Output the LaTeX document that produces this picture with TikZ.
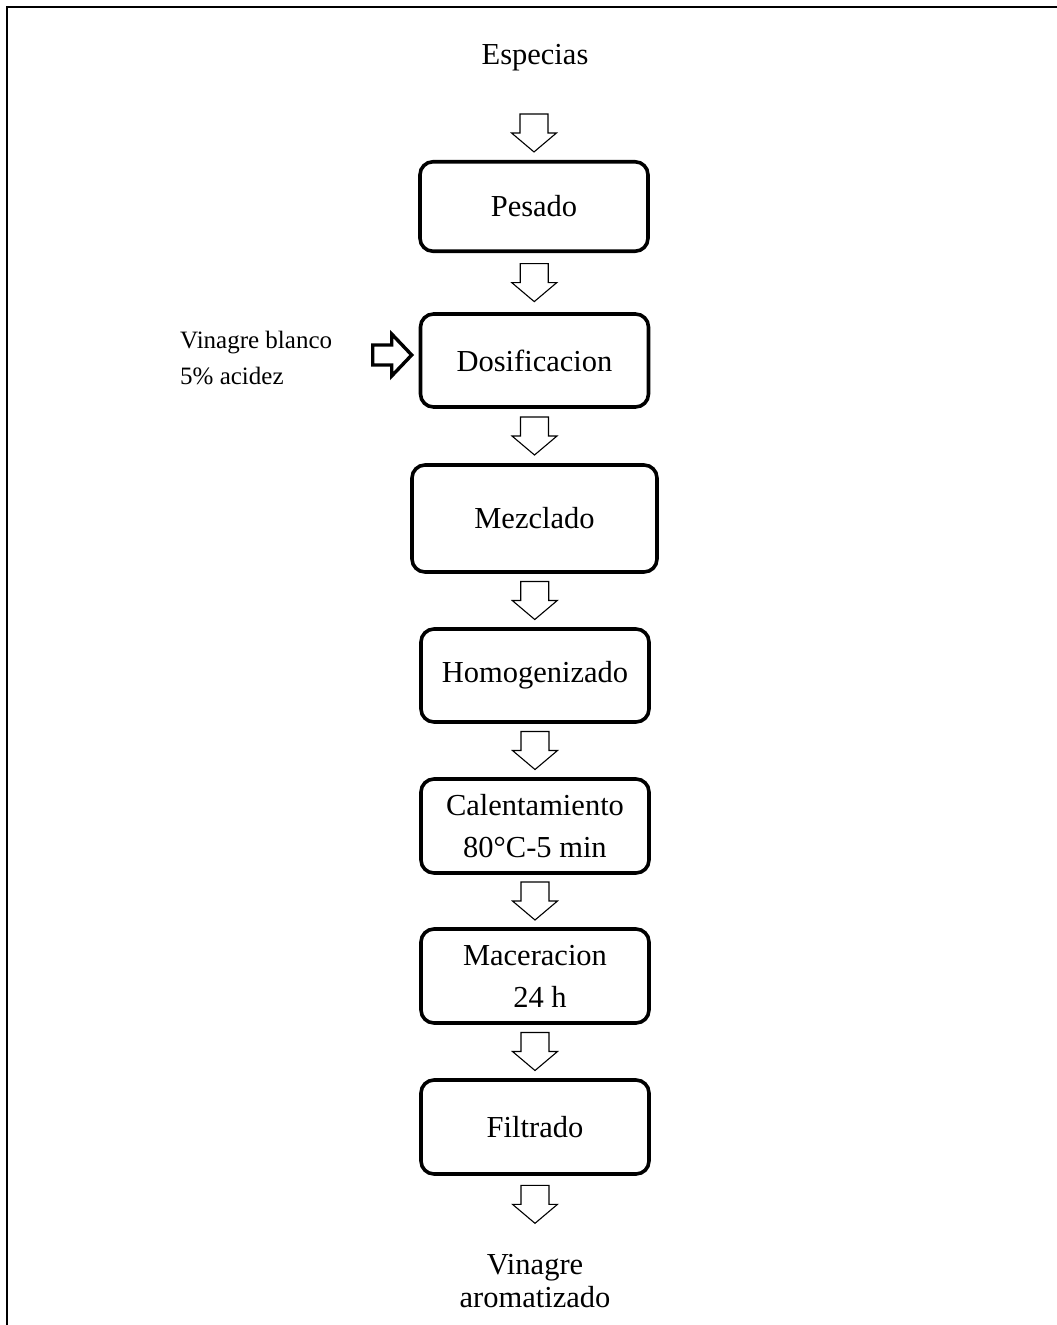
\documentclass[tikz,border=0pt]{standalone}
\usepackage{fontspec}
\setmainfont{Liberation Serif}
\usetikzlibrary{calc}
\begin{document}
\begin{tikzpicture}[x=1pt,y=-1pt,
  stepbox/.style={draw, line width=3.6pt, rounded corners=13pt,
    minimum width=228pt, minimum height=93pt, inner sep=0pt,
    align=center, font=\fontsize{30.5}{42}\selectfont},
  label/.style={inner sep=0pt, align=center, font=\fontsize{30.5}{33}\selectfont},
  sidelabel/.style={inner sep=0pt, align=left, font=\fontsize{25}{36}\selectfont},
  flowline/.style={draw, line width=1.1pt, line join=miter},
  feedline/.style={draw, line width=3.4pt, fill=white, line join=miter}]
\useasboundingbox (0,0) rectangle (1057,1325);
% page frame
\draw[line width=1.4pt] (7,1325) -- (7,7) -- (1057,7);

% input and output labels
\node[label] (esp) at (535,58) {Especias};

% process steps
\node[stepbox, minimum height=89.5pt] (pesado) at (534,206.5) {Pesado};
\node[stepbox] (dosif) at (534.5,360.5) {Dosificacion};
\node[stepbox, minimum width=245pt, minimum height=107pt] (mezcla) at (534.5,518.5) {Mezclado};
\node[stepbox] (homog) at (535,675.5) {Homogenizado};
\node[stepbox, minimum height=94pt] (calent) at (535,826) {Calentamiento\\80°C-5 min};
\node[stepbox, minimum height=94pt] (macer) at (535,976) {Maceracion\\\hspace*{10pt}24 h};
\node[stepbox, minimum height=94pt] (filtr) at (535,1127) {Filtrado};

\node[label] (salida) at (535,1281) {Vinagre\\aromatizado};

% side input
\node[sidelabel, anchor=west] (vin) at (180,358) {Vinagre blanco\\5\% acidez};
\coordinate (fa) at ($(dosif.west)+(-26,-5.5)$);
\path[feedline, shift={(fa)}]
  (-20,-10) -- (-1,-10) -- (-1,-21) -- (19,0) -- (-1,21) -- (-1,10) -- (-20,10) -- cycle;

% hollow block arrows between steps
\coordinate (a0) at ($(pesado.north)+(0,-27)$);
\coordinate (a1) at ($(pesado.south)!0.5!(dosif.north)$);
\coordinate (a2) at ($(dosif.south)!0.5!(mezcla.north)$);
\coordinate (a3) at ($(mezcla.south)!0.5!(homog.north)$);
\coordinate (a4) at ($(homog.south)!0.5!(calent.north)$);
\coordinate (a5) at ($(calent.south)!0.5!(macer.north)$);
\coordinate (a6) at ($(macer.south)!0.5!(filtr.north)$);
\coordinate (a7) at ($(filtr.south)+(0,28.5)$);
\foreach \c in {a0,a1,a2,a3,a4,a5,a6,a7}
  \path[flowline, shift={(\c)}]
    (-14,-19) -- (14,-19) -- (14,0) -- (22.5,0) -- (0,19) -- (-22.5,0) -- (-14,0) -- cycle;
\end{tikzpicture}
\end{document}
